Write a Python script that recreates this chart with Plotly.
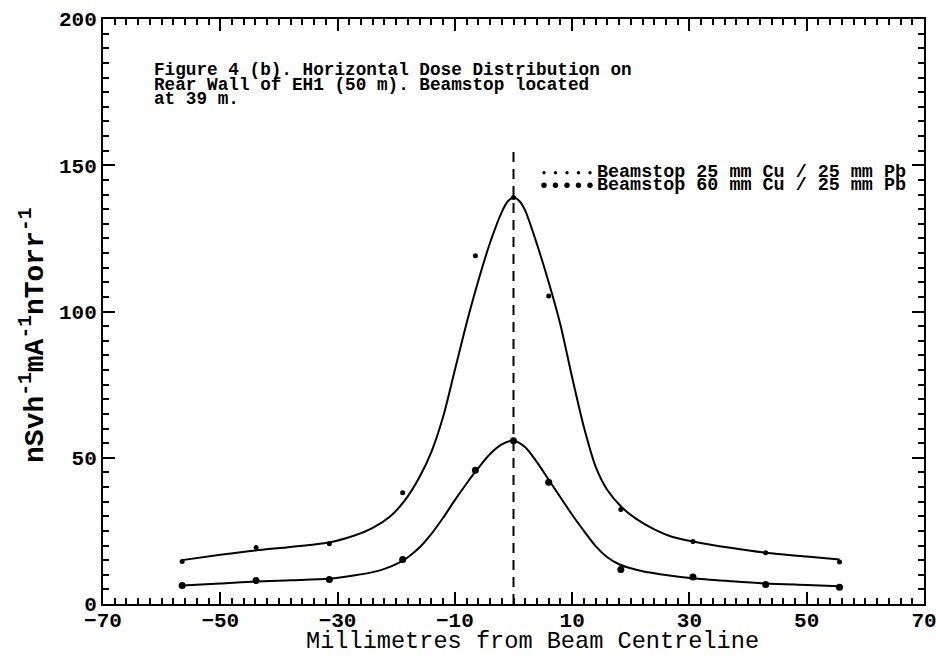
import plotly.graph_objects as go

# ---- data ----
pts_x = [-56.5, -43.9, -31.4, -18.9, -6.5, 0.0, 6.0, 18.3, 30.6, 43.0, 55.6]
pts_25cu = [14.5, 19.3, 20.6, 38.0, 119.1, 139.0, 105.3, 32.3, 21.4, 17.5, 14.4]
pts_60cu = [6.3, 8.0, 8.4, 15.2, 45.7, 55.8, 41.6, 11.8, 9.2, 6.7, 5.7]

fit_25cu_x = [-56.5, -50, -44, -38, -31.5, -27, -24, -21, -18.5, -16, -14, -12, -10, -8, -6, -4, -2, -1,
              0, 1, 2, 4, 6, 8, 10, 12, 14, 16, 18.5, 21, 24, 27, 30.6, 37, 43, 50, 55.6]
fit_25cu_y = [15.0, 16.8, 18.3, 19.5, 21.0, 23.5, 26.0, 30.0, 35.5, 43.5, 52.0, 64.0, 80.0, 96.0, 110.5, 123.5, 134.0, 137.6,
              139.0, 137.8, 134.5, 123.0, 110.0, 95.5, 77.5, 60.5, 47.0, 39.0, 33.0, 29.0, 25.5, 23.0, 21.4, 19.2, 17.5, 16.2, 15.2]

fit_60cu_x = [-56.5, -50, -44, -38, -31.4, -27, -24, -22, -20, -18, -16, -14, -12, -10, -8, -6, -4, -2,
              0, 2, 4, 6, 8, 10, 12, 14, 16, 18, 20, 22, 25, 30.6, 37, 43, 50, 55.6]
fit_60cu_y = [6.3, 7.0, 7.7, 8.1, 8.6, 9.8, 10.9, 12.0, 13.6, 16.0, 19.4, 24.0, 29.5, 35.5, 41.2, 46.5, 51.3, 54.6,
              55.8, 53.6, 48.5, 42.5, 36.5, 30.5, 25.0, 19.8, 16.0, 13.6, 12.2, 11.2, 10.2, 8.8, 7.8, 7.0, 6.5, 6.1]

centre_x = [0, 0]
centre_y = [0, 155]

x_ticks = [-70, -50, -30, -10, 10, 30, 50, 70]
y_ticks = [0, 50, 100, 150, 200]

title_lines = ["Figure 4 (b). Horizontal Dose Distribution on",
               "Rear Wall of EH1 (50 m). Beamstop located",
               "at 39 m."]
legend_labels = ["Beamstop 25 mm Cu / 25 mm Pb", "Beamstop 60 mm Cu / 25 mm Pb"]

FONT = "Liberation Mono"
L, R, T, B = 103, 924, 18.5, 604.5
W, H = R - L, B - T


def px(xp):
    return (xp - L) / W


def py(yp):
    return (B - yp) / H


fig = go.Figure()
fig.add_trace(go.Scatter(x=fit_25cu_x, y=fit_25cu_y, mode="lines",
                         line=dict(color="black", width=2, shape="spline", smoothing=0.8),
                         showlegend=False, hoverinfo="skip"))
fig.add_trace(go.Scatter(x=fit_60cu_x, y=fit_60cu_y, mode="lines",
                         line=dict(color="black", width=2, shape="spline", smoothing=0.8),
                         showlegend=False, hoverinfo="skip"))
fig.add_trace(go.Scatter(x=pts_x, y=pts_25cu, mode="markers", marker=dict(color="black", size=5),
                         name=legend_labels[0], showlegend=False))
fig.add_trace(go.Scatter(x=pts_x, y=pts_60cu, mode="markers", marker=dict(color="black", size=7),
                         name=legend_labels[1], showlegend=False))
fig.add_trace(go.Scatter(x=centre_x, y=centre_y, mode="lines",
                         line=dict(color="black", width=2, dash="10px,7px"),
                         showlegend=False, hoverinfo="skip"))

axis_common = dict(showline=True, linecolor="black", linewidth=2, mirror="allticks",
                   ticks="inside", ticklen=12, tickwidth=2, tickcolor="black",
                   showgrid=False, zeroline=False, automargin=False, ticklabeloverflow="allow",
                   tickfont=dict(family=FONT, size=21, color="black", weight="bold"))

fig.update_xaxes(range=[-70, 70], tickvals=x_ticks, ticklabelstandoff=-4, **axis_common,
                 minor=dict(dtick=2, tick0=0, ticks="inside", ticklen=6, tickwidth=1.5, tickcolor="black"))
fig.update_yaxes(range=[0, 200], tickvals=y_ticks, **axis_common,
                 minor=dict(dtick=5, tick0=0, ticks="inside", ticklen=6, tickwidth=1.5, tickcolor="black"))

annotations = []
for i, line in enumerate(title_lines):
    annotations.append(dict(xref="paper", yref="paper", x=px(152), y=py(70 + 14.5 * i),
                            xanchor="left", yanchor="middle", showarrow=False, text=line,
                            font=dict(family=FONT, size=17.7, color="black", weight="bold")))
shapes = []
dot_r = [1.7, 2.7]
for i, lab in enumerate(legend_labels):
    yc = 172.5 + 12.5 * i
    annotations.append(dict(xref="paper", yref="paper", x=px(595), y=py(yc),
                            xanchor="left", yanchor="middle", showarrow=False, text=lab,
                            font=dict(family=FONT, size=18.4, color="black", weight="bold")))
    for k in range(5):
        cx = 544 + k * 11.5
        r = dot_r[i]
        shapes.append(dict(type="circle", xref="paper", yref="paper",
                           x0=px(cx - r), x1=px(cx + r), y0=py(yc + r), y1=py(yc - r),
                           fillcolor="black", line=dict(width=0)))
annotations.append(dict(xref="paper", yref="paper", x=px(532), y=py(642),
                        xanchor="center", yanchor="middle", showarrow=False,
                        text="Millimetres from Beam Centreline",
                        font=dict(family=FONT, size=23.6, color="black")))
annotations.append(dict(xref="paper", yref="paper", x=px(33), y=py(336),
                        xanchor="center", yanchor="middle", showarrow=False, textangle=-90,
                        text="nSvh<sup>-1</sup>mA<sup>-1</sup>nTorr<sup>-1</sup>",
                        font=dict(family=FONT, size=28, color="black", weight="bold")))

fig.update_layout(width=936, height=658, margin=dict(l=L, r=936 - R, t=T, b=658 - B),
                  paper_bgcolor="white", plot_bgcolor="white", annotations=annotations,
                  shapes=shapes, showlegend=False)

fig.write_html("out.html")
